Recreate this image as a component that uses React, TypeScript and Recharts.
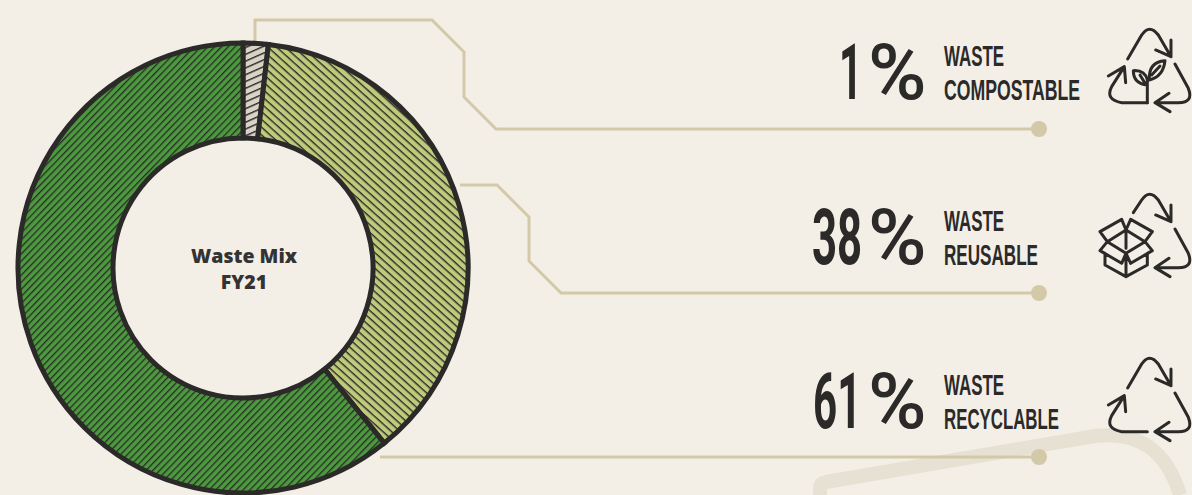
import React from "react";
import { PieChart, Pie, Cell } from "recharts";

const categories = ["WASTE COMPOSTABLE", "WASTE REUSABLE", "WASTE RECYCLABLE"];
const drawnShares = [1.8, 37.4, 60.8];
const percentDigits = ["1", "38", "61"];
const firstLines = ["WASTE", "WASTE", "WASTE"];
const secondLines = ["COMPOSTABLE", "REUSABLE", "RECYCLABLE"];
const patternIds = ["pGray", "pYellow", "pGreen"];
const rows = categories.map((name, i) => ({ name, value: drawnShares[i] }));

const BG = "#f3efe6";
const DARK = "#2b2a29";
const TAN = "#d3c9a8";
const NARROW = "'Liberation Sans', 'Roboto', sans-serif";

const pctLayout = [
  { x: 839, sx: 0.52, base: 99 },
  { x: 812, sx: 0.56, base: 264 },
  { x: 813, sx: 0.54, base: 428 },
];
const lblLayout = [
  { w1: 60, w2: 136, b1: 66, b2: 100 },
  { w1: 60, w2: 94, b1: 231, b2: 265 },
  { w1: 60, w2: 115, b1: 395, b2: 429 },
];
const leaderPaths = [
  "M255 42 V20 H432 L464 52 V97 L496 129 H1039",
  "M460 185 H497 L529 217 V261 L561 293 H1039",
  "M380 457 H1039",
];
const leaderDots = [129, 293, 457];

const Stripe = ({ id, size, angle, fill, line, lw }: any) => (
  <pattern id={id} width={size} height={size} patternUnits="userSpaceOnUse" patternTransform={`rotate(${angle})`}>
    <rect width={size} height={size} fill={fill} />
    <rect width={size} height={lw} fill={line} />
  </pattern>
);

const RecycleTop = () => (
  <path d="M113 117 L155 45 Q178 10 205 45 L243 110 M243 60 L243 110 L197 90" />
);
const RecycleRight = () => (
  <path d="M255 132 L295 205 Q312 248 265 248 L195 248 M237 220 L195 248 L240 275" />
);
const RecycleLeft = () => (
  <path d="M172 248 L95 248 Q45 240 65 200 L103 140 M55 168 L103 140 L107 188" />
);

const IconGroup = ({ dy, children }: any) => (
  <g transform={`translate(1090 ${20 + dy}) scale(0.3333)`} fill="none" stroke={DARK} strokeWidth={9} strokeLinecap="round" strokeLinejoin="round">
    {children}
  </g>
);

export default function App() {
  return (
    <div style={{ position: "absolute", left: 0, top: 0, width: 1192, height: 495, background: BG, overflow: "hidden" }}>
      <PieChart width={1192} height={495} margin={{ top: 0, right: 0, bottom: 0, left: 0 }}>
        <defs>
          <Stripe id="pGray" size={6.2} angle={-24} fill="#d8d3c5" line={DARK} lw={1.4} />
          <Stripe id="pYellow" size={5.8} angle={42} fill="#bfcb7a" line={DARK} lw={1.4} />
          <Stripe id="pGreen" size={4.9} angle={-46} fill="#4b9a3e" line={DARK} lw={1.3} />
        </defs>

        <path d="M820 495 V488 Q820 483 826 482 L1095 436 Q1160 428 1180 495" fill="none" stroke="#e6e1d3" strokeWidth={14} />
        {leaderPaths.map((d) => (
          <path key={d} d={d} fill="none" stroke={TAN} strokeWidth={3} />
        ))}
        {leaderDots.map((y) => (
          <circle key={y} cx={1039} cy={y} r={8} fill={TAN} />
        ))}

        <Pie
          data={rows}
          dataKey="value"
          nameKey="name"
          cx={243}
          cy={268}
          innerRadius={130}
          outerRadius={225}
          startAngle={90}
          endAngle={-270}
          stroke={DARK}
          strokeWidth={5}
          paddingAngle={0}
          isAnimationActive={false}
          label={false}
          labelLine={false}
        >
          {rows.map((r, i) => (
            <Cell key={r.name} fill={`url(#${patternIds[i]})`} />
          ))}
        </Pie>

        <text x={244} y={263} textAnchor="middle" fontFamily="'Open Sans', sans-serif" fontWeight={800} fontSize={19.5} fill="#333333">Waste Mix</text>
        <text x={244} y={289} textAnchor="middle" fontFamily="'Open Sans', sans-serif" fontWeight={800} fontSize={19.5} fill="#333333">FY21</text>

        {percentDigits.map((t, i) => (
          <g key={t}>
            <text transform={`translate(${pctLayout[i].x} ${pctLayout[i].base}) scale(${pctLayout[i].sx} 1)`} fontFamily="Roboto, sans-serif" fontWeight={700} fontSize={78} fill={DARK}>{t}</text>
            <text transform={`translate(868 ${pctLayout[i].base}) scale(1.02 1)`} fontFamily="Roboto, sans-serif" fontWeight={500} fontSize={78} fill={DARK}>%</text>
          </g>
        ))}
        {firstLines.map((t, i) => (
          <text key={i} x={944} y={lblLayout[i].b1} fontFamily={NARROW} fontWeight={700} fontSize={29.5} fill={DARK} textLength={lblLayout[i].w1} lengthAdjust="spacingAndGlyphs">{t}</text>
        ))}
        {secondLines.map((t, i) => (
          <text key={t} x={944} y={lblLayout[i].b2} fontFamily={NARROW} fontWeight={700} fontSize={29.5} fill={DARK} textLength={lblLayout[i].w2} lengthAdjust="spacingAndGlyphs">{t}</text>
        ))}

        <IconGroup dy={0}>
          <RecycleTop /><RecycleRight /><RecycleLeft />
          <path d="M172 248 V180 M172 195 Q130 190 130 152 Q165 150 172 180 M178 180 Q175 125 225 122 Q220 170 178 180 M150 165 L165 190 M210 138 L185 165" />
        </IconGroup>
        <IconGroup dy={165}>
          <path d="M130 83 L155 45 Q178 10 205 45 L243 110 M243 60 L243 110 L197 90" />
          <RecycleRight />
          <path d="M108 135 V190 M108 135 L52 170 L108 205 L165 170 Z M108 135 L95 103 L30 140 L52 170 M108 135 L122 103 L187 140 L165 170 M52 170 L30 197 L95 235 L108 205 L122 235 L187 197 L165 170 M45 205 V240 L108 275 L172 240 V205 M108 205 V275" />
        </IconGroup>
        <IconGroup dy={329}>
          <RecycleTop /><RecycleRight /><RecycleLeft />
        </IconGroup>
      </PieChart>
    </div>
  );
}
